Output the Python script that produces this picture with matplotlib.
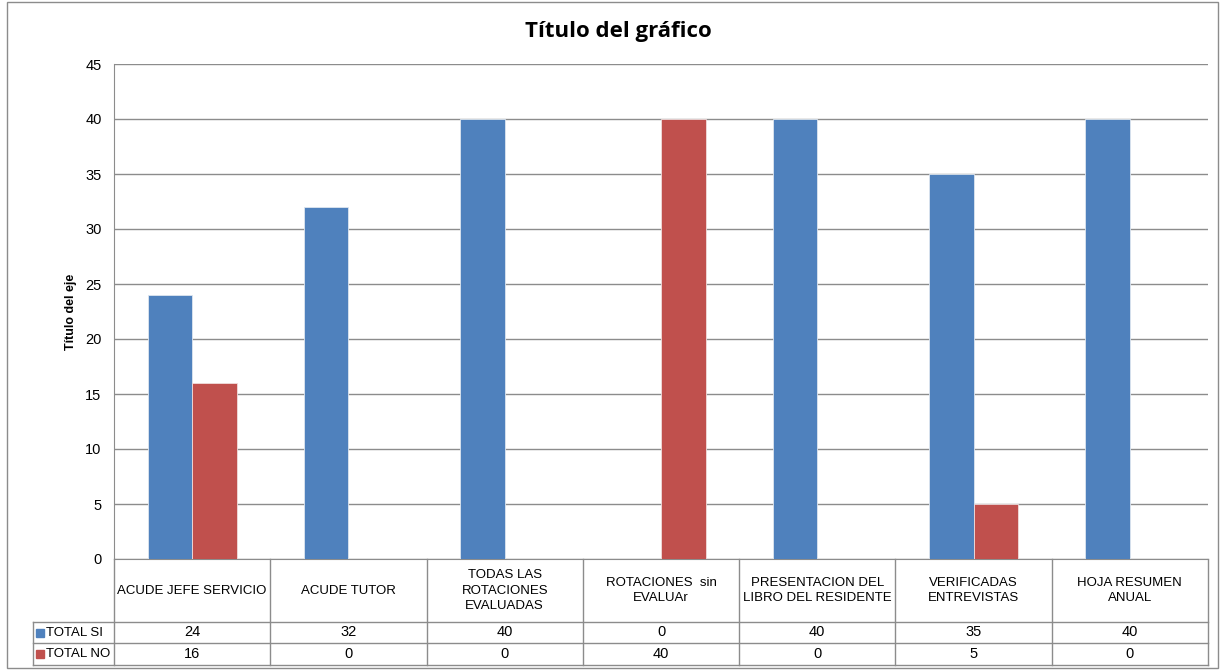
import numpy as np
import matplotlib.pyplot as plt
from matplotlib.transforms import blended_transform_factory
from matplotlib.patches import Rectangle

plt.rcParams['font.family'] = ['Liberation Sans', 'DejaVu Sans']

categories = ['ACUDE JEFE SERVICIO', 'ACUDE TUTOR', 'TODAS LAS\nROTACIONES\nEVALUADAS',
              'ROTACIONES  sin\nEVALUAr', 'PRESENTACION DEL\nLIBRO DEL RESIDENTE',
              'VERIFICADAS\nENTREVISTAS', 'HOJA RESUMEN\nANUAL']
total_si = [24, 32, 40, 0, 40, 35, 40]
total_no = [16, 0, 0, 40, 0, 5, 0]
series_names = ['TOTAL SI', 'TOTAL NO']
colors = ['#4F81BD', '#C0504D']
grid_color = '#8C8C8C'

fig = plt.figure(figsize=(12.25, 6.71), dpi=100)
ax = fig.add_axes([114 / 1225, 1 - 559 / 671, 1094 / 1225, 495 / 671])

# marco exterior
fig.patches.append(Rectangle((7 / 1225, 1 - 668 / 671), 1211 / 1225, 666 / 671,
                             transform=fig.transFigure, fill=False, edgecolor='#8C8C8C', lw=1))

x = np.arange(len(categories))
w = 0.285
ax.bar(x - w / 2, total_si, w, color=colors[0], edgecolor='#DDE6F0', lw=0.6, zorder=3)
ax.bar(x + w / 2, total_no, w, color=colors[1], edgecolor='#F0DDDD', lw=0.6, zorder=3)

ax.set_xlim(-0.5, len(categories) - 0.5)
ax.set_ylim(0, 45)
ax.set_yticks(np.arange(0, 46, 5))
ax.yaxis.grid(True, color=grid_color, lw=1)
ax.set_axisbelow(True)
ax.set_xticks([])
for s in ['top', 'right']:
    ax.spines[s].set_visible(False)
ax.spines['left'].set_color(grid_color)
ax.spines['bottom'].set_color(grid_color)
ax.tick_params(axis='y', length=0, labelsize=10.5, pad=9)
ax.set_ylabel('Título del eje', fontsize=9, fontweight='bold', labelpad=6)
fig.text(618 / 1225, 1 - 32 / 671, 'Título del gráfico', ha='center', va='center',
         fontsize=16, fontweight='bold', family=['Open Sans', 'DejaVu Sans'])

# tabla de datos bajo el eje
trans = blended_transform_factory(ax.transData, ax.transAxes)
px = 1 / 495
y_head = -63 * px
y_si = -84 * px
y_no = -106 * px
x_lab = -0.5 - 81 * len(categories) / 1094
lk = dict(color=grid_color, lw=1, clip_on=False, transform=trans)

for b in np.arange(len(categories) + 1) - 0.5:
    ax.plot([b, b], [0, y_no], **lk)
ax.plot([x_lab, x_lab], [y_head, y_no], **lk)
for yy in [y_head, y_si, y_no]:
    ax.plot([x_lab, len(categories) - 0.5], [yy, yy], **lk)

for i, c in enumerate(categories):
    ax.text(i, y_head / 2, c, transform=trans, ha='center', va='center',
            fontsize=9.5, linespacing=1.35)
    ax.text(i, (y_head + y_si) / 2, str(total_si[i]), transform=trans,
            ha='center', va='center', fontsize=10.5)
    ax.text(i, (y_si + y_no) / 2, str(total_no[i]), transform=trans,
            ha='center', va='center', fontsize=10.5)

for name, col, y0, y1 in [(series_names[0], colors[0], y_head, y_si),
                          (series_names[1], colors[1], y_si, y_no)]:
    ym = (y0 + y1) / 2
    ax.plot([x_lab + 0.045], [ym], marker='s', ms=5.5, color=col, clip_on=False, transform=trans)
    ax.text(x_lab + 0.08, ym, name, transform=trans, ha='left', va='center', fontsize=9.5)

fig.savefig('out.png', dpi=100)
